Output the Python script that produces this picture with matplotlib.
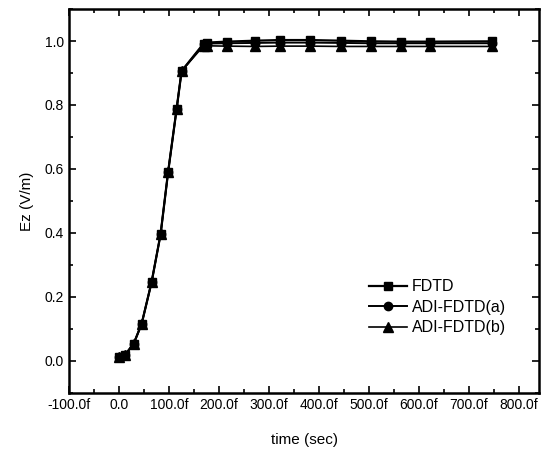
import numpy as np
import matplotlib.pyplot as plt
from matplotlib.ticker import MultipleLocator

plt.rcParams['font.family'] = ['Liberation Sans', 'DejaVu Sans']

# Sample times (sec)
t = [0, 12, 29, 45, 65, 83, 98, 115, 125, 169, 175, 215, 272, 322, 382, 444, 503, 563, 622, 745]

# Shared rising part
rise = [0.012, 0.019, 0.053, 0.115, 0.246, 0.396, 0.59, 0.787, 0.906]

ez_fdtd = rise + [0.992, 0.995, 0.998, 1.001, 1.003, 1.003, 1.001, 0.999, 0.998, 0.998, 0.999]
ez_adi_a = rise + [0.99, 0.992, 0.993, 0.994, 0.995, 0.995, 0.994, 0.993, 0.993, 0.993, 0.993]
ez_adi_b = rise + [0.985, 0.985, 0.984, 0.983, 0.984, 0.984, 0.983, 0.983, 0.983, 0.983, 0.983]

xtick_vals = [-100, 0, 100, 200, 300, 400, 500, 600, 700, 800]
xtick_labels = ['-100.0f', '0.0', '100.0f', '200.0f', '300.0f', '400.0f',
                '500.0f', '600.0f', '700.0f', '800.0f']

fig = plt.figure(figsize=(5.44, 4.51), dpi=100)
ax = fig.add_axes([0.127, 0.129, 0.864, 0.851])

ax.plot(t, ez_fdtd, '-s', color='black', lw=1.6, ms=6, label='FDTD')
ax.plot(t, ez_adi_a, '-o', color='black', lw=1.4, ms=6, label='ADI-FDTD(a)')
ax.plot(t, ez_adi_b, '-^', color='black', lw=1.2, ms=6.5, label='ADI-FDTD(b)')

ax.set_xlim(-100, 840)
ax.set_ylim(-0.1, 1.1)
ax.set_xticks(xtick_vals)
ax.set_xticklabels(xtick_labels)
ax.set_yticks([0.0, 0.2, 0.4, 0.6, 0.8, 1.0])
ax.set_yticklabels(['0.0', '0.2', '0.4', '0.6', '0.8', '1.0'])
ax.xaxis.set_minor_locator(MultipleLocator(50))
ax.yaxis.set_minor_locator(MultipleLocator(0.1))

ax.tick_params(which='both', direction='in', top=True, right=True,
               labeltop=False, labelright=False, width=1.2, labelsize=10)
ax.tick_params(which='major', length=5)
ax.tick_params(which='minor', length=3)
for s in ax.spines.values():
    s.set_linewidth(1.8)

ax.set_xlabel('time (sec)', fontsize=11, labelpad=15)
ax.set_ylabel('Ez (V/m)', fontsize=11, labelpad=8)

ax.legend(loc='lower right', bbox_to_anchor=(0.96, 0.112), frameon=False,
          fontsize=11.5, handlelength=2.4, handletextpad=0.3, labelspacing=0.35)

fig.savefig('out.png', dpi=100)
